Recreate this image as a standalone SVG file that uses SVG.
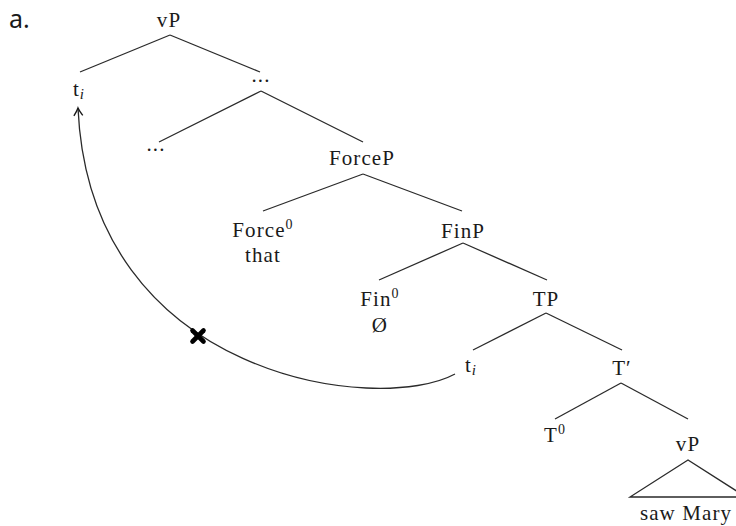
<svg xmlns="http://www.w3.org/2000/svg" width="736" height="526" viewBox="0 0 736 526">
<style>
.lbl{font-family:"Liberation Serif","DejaVu Serif",serif;font-size:21px;fill:#1a1a1a;letter-spacing:1.1px;text-anchor:middle}
.sup{font-size:14px}
.sub{font-size:15px;font-style:italic}
.edge{stroke:#2a2a2a;stroke-width:1.3;fill:none}
.tag{font-family:"Noto Sans","Open Sans",sans-serif;font-size:25px;fill:#1a1a1a}
</style>
<defs>
<marker id="arr" markerUnits="userSpaceOnUse" markerWidth="14" markerHeight="14" viewBox="-8 -6 10 12" refX="0" refY="0" orient="auto">
<path d="M -6.5 -3.8 Q -2.5 -1 0 0 Q -2.5 1 -6.5 3.8" fill="none" stroke="#1a1a1a" stroke-width="1.2"/>
</marker>
</defs>
<rect width="736" height="526" fill="#ffffff"/>
<text class="tag" x="9" y="28">a.</text>
<g id="connectors">
<line class="edge" x1="170" y1="35" x2="80" y2="72"/>
<line class="edge" x1="170" y1="35" x2="260" y2="72"/>
<line class="edge" x1="261" y1="91" x2="159" y2="142"/>
<line class="edge" x1="261" y1="91" x2="363" y2="142"/>
<line class="edge" x1="363" y1="174" x2="263" y2="211"/>
<line class="edge" x1="363" y1="174" x2="462" y2="211"/>
<line class="edge" x1="463" y1="243" x2="379" y2="280"/>
<line class="edge" x1="463" y1="243" x2="547" y2="280"/>
<line class="edge" x1="546" y1="313" x2="473" y2="350"/>
<line class="edge" x1="546" y1="313" x2="622" y2="350"/>
<line class="edge" x1="621" y1="383" x2="555" y2="419"/>
<line class="edge" x1="621" y1="383" x2="688" y2="419"/>
<polygon class="edge" points="688,460 630,497 746,497"/>
<path class="edge" d="M 455 374 C 380 415, 90 380, 78 108" stroke-width="1.4" marker-end="url(#arr)"/>
<g id="block-mark" stroke="#000" stroke-width="4.6" stroke-linecap="round">
<line x1="192.5" y1="330.5" x2="203.5" y2="341.5"/>
<line x1="192.5" y1="341.5" x2="203.5" y2="330.5"/>
</g>
</g>
<g id="node-vP-top"><text class="lbl" x="169" y="27">vP</text></g>
<g id="node-t-upper"><text class="lbl" x="79" y="96">t<tspan class="sub" dy="3">i</tspan></text></g>
<g id="node-dots-1"><text class="lbl" x="261" y="82">...</text></g>
<g id="node-dots-2"><text class="lbl" x="156" y="151">...</text></g>
<g id="node-ForceP"><text class="lbl" x="362" y="165">ForceP</text></g>
<g id="node-Force0"><text class="lbl" x="263" y="237">Force<tspan class="sup" dy="-8">0</tspan></text><text class="lbl" x="263" y="262">that</text></g>
<g id="node-FinP"><text class="lbl" x="463" y="238">FinP</text></g>
<g id="node-Fin0"><text class="lbl" x="380" y="306">Fin<tspan class="sup" dy="-8">0</tspan></text><text class="lbl" x="380" y="332">Ø</text></g>
<g id="node-TP"><text class="lbl" x="546" y="306">TP</text></g>
<g id="node-t-lower"><text class="lbl" x="471" y="372">t<tspan class="sub" dy="3">i</tspan></text></g>
<g id="node-Tbar"><text class="lbl" x="622" y="375">T′</text></g>
<g id="node-T0"><text class="lbl" x="555" y="442">T<tspan class="sup" dy="-8">0</tspan></text></g>
<g id="node-vP-low"><text class="lbl" x="688" y="451">vP</text><text class="lbl" x="686" y="520">saw Mary</text></g>
</svg>
